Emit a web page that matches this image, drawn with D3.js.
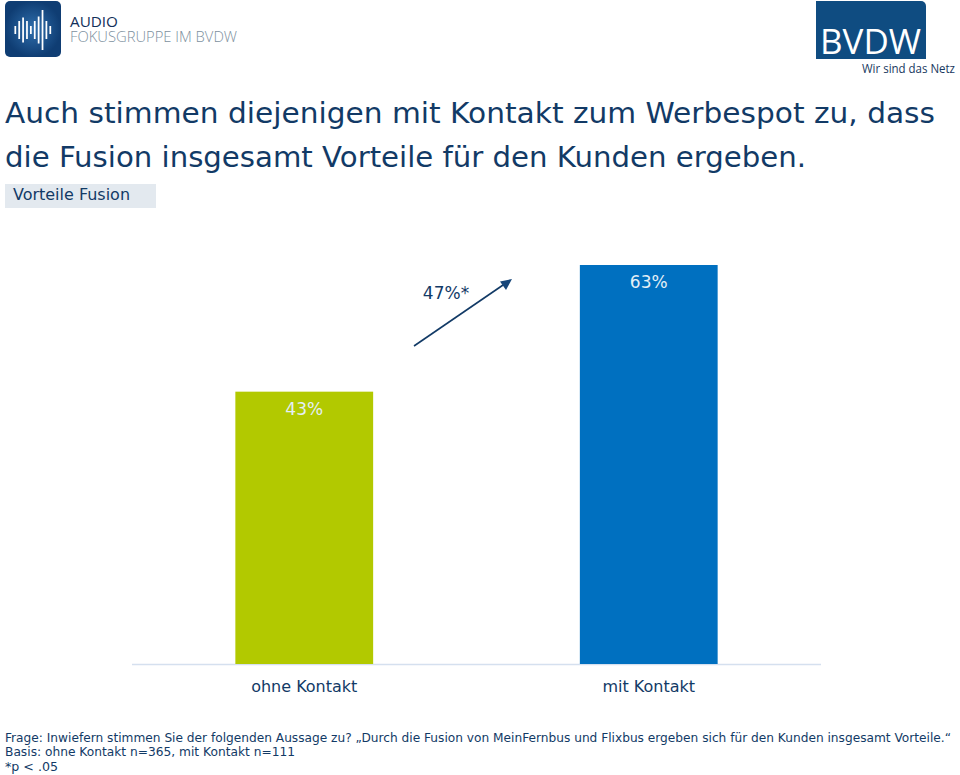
<!DOCTYPE html>
<html><head><meta charset="utf-8">
<script src="https://cdn.jsdelivr.net/npm/d3@7"></script>
<style>html,body{margin:0;padding:0;background:#fff}svg{display:block}text{font-family:"DejaVu Sans",sans-serif}</style>
</head><body><div id="c"></div>
<script>
const categories = ["ohne Kontakt", "mit Kontakt"];
const values = [43, 63];
const valueLabels = ["43%", "63%"];
const barColors = ["#b2c900", "#0070c0"];
const titleLines = ["Auch stimmen diejenigen mit Kontakt zum Werbespot zu, dass", "die Fusion insgesamt Vorteile für den Kunden ergeben."];
const subtitle = "Vorteile Fusion";
const arrowLabel = "47%*";
const footLines = ["Frage: Inwiefern stimmen Sie der folgenden Aussage zu? „Durch die Fusion von MeinFernbus und Flixbus ergeben sich für den Kunden insgesamt Vorteile.“", "Basis: ohne Kontakt n=365, mit Kontakt n=111", "*p < .05"];
const waveHeights = [8, 18, 25, 18, 8, 18, 27, 40, 18, 8];

const navy = "#123a66", W = 960, H = 775;
const svg = d3.select("#c").append("svg").attr("width", W).attr("height", H);

const x = d3.scaleBand().domain(categories).range([132, 821]).paddingInner(0.6).paddingOuter(0.3);
const y = d3.scaleLinear().domain([0, 63]).range([664, 265]);
const fit = (s, len) => s.attr("textLength", len).attr("lengthAdjust", "spacingAndGlyphs");

// Logo left
const defs = svg.append("defs");
const g = defs.append("radialGradient").attr("id", "lg");
g.append("stop").attr("offset", "0%").attr("stop-color", "#2f6fad");
g.append("stop").attr("offset", "100%").attr("stop-color", "#0f3d73");
svg.append("rect").attr("x", 5).attr("y", 1).attr("width", 56).attr("height", 56).attr("rx", 5).attr("fill", "url(#lg)");
const wx = d3.scaleBand().domain(d3.range(waveHeights.length)).range([12.3, 53.3]).padding(0.55);
svg.append("g").selectAll("rect").data(waveHeights).join("rect")
  .attr("x", (d, i) => wx(i)).attr("width", wx.bandwidth())
  .attr("y", d => 30 - d / 2).attr("height", d => d).attr("fill", "#fff");
fit(svg.append("text").attr("x", 70).attr("y", 27).attr("font-size", 14.5).attr("fill", "#12305a").attr("style", "font-family:'Open Sans',sans-serif;font-weight:500").text("AUDIO"), 48);
fit(svg.append("text").attr("x", 70).attr("y", 42).attr("font-size", 14.5).attr("fill", "#7d909e").attr("style", "font-family:'Open Sans',sans-serif;font-weight:300").text("FOKUSGRUPPE IM BVDW"), 167);

// Logo right
svg.append("path").attr("d", "M816,1H921a5,5 0 0 1 5,5V59H816Z").attr("fill", "#0f4c81");
fit(svg.append("text").attr("x", 820).attr("y", 54).attr("font-size", 34).attr("fill", "#fff").attr("style", "font-family:'Open Sans',sans-serif").text("BVDW"), 101);
fit(svg.append("text").attr("x", 862).attr("y", 73).attr("font-size", 12).attr("fill", "#17375e").attr("style", "font-family:'Open Sans',sans-serif").text("Wir sind das Netz"), 93);

// Title
svg.append("g").selectAll("text").data(titleLines).join("text")
  .attr("x", 5).attr("y", (d, i) => 123 + i * 44).attr("font-size", 27.5).attr("fill", navy)
  .text(d => d).each(function (d, i) { fit(d3.select(this), [930, 801][i]); });

// Subtitle tag
svg.append("rect").attr("x", 5).attr("y", 184).attr("width", 151).attr("height", 24).attr("fill", "#e3e9ef");
fit(svg.append("text").attr("x", 13).attr("y", 200).attr("font-size", 16).attr("fill", navy).text(subtitle), 117);

// Bars
svg.append("line").attr("x1", 132).attr("x2", 821).attr("y1", 664.5).attr("y2", 664.5).attr("stroke", "#d5e0ef").attr("stroke-width", 1.5);
svg.append("g").selectAll("rect").data(values).join("rect")
  .attr("x", (d, i) => x(categories[i])).attr("width", x.bandwidth())
  .attr("y", d => y(d)).attr("height", d => y(0) - y(d))
  .attr("fill", (d, i) => barColors[i]);
svg.append("g").selectAll("text").data(values).join("text")
  .attr("x", (d, i) => x(categories[i]) + x.bandwidth() / 2).attr("y", d => y(d) + 23)
  .attr("text-anchor", "middle").attr("font-size", 17).attr("fill", "#e4eff6")
  .text((d, i) => valueLabels[i]);

// Category axis labels
const axis = svg.append("g").attr("transform", "translate(0,664)")
  .call(d3.axisBottom(x).tickSize(0).tickPadding(17));
axis.select(".domain").remove();
axis.selectAll("text").attr("font-size", 16).attr("fill", navy).style("font-family", '"DejaVu Sans",sans-serif');

// Arrow
svg.append("line").attr("x1", 414).attr("y1", 346).attr("x2", 506).attr("y2", 283).attr("stroke", navy).attr("stroke-width", 1.6);
svg.append("path").attr("d", "M512,279L500,281.5L506,290Z").attr("fill", "#17467a");
svg.append("text").attr("x", 446).attr("y", 299).attr("text-anchor", "middle").attr("font-size", 17).attr("fill", navy).text(arrowLabel);

// Footnotes
svg.append("g").selectAll("text").data(footLines).join("text")
  .attr("x", 5).attr("y", (d, i) => 741.5 + i * 14.6).attr("font-size", 12).attr("fill", navy)
  .text(d => d).each(function (d, i) { fit(d3.select(this), [946, 290, 53][i]); });
</script></body></html>
